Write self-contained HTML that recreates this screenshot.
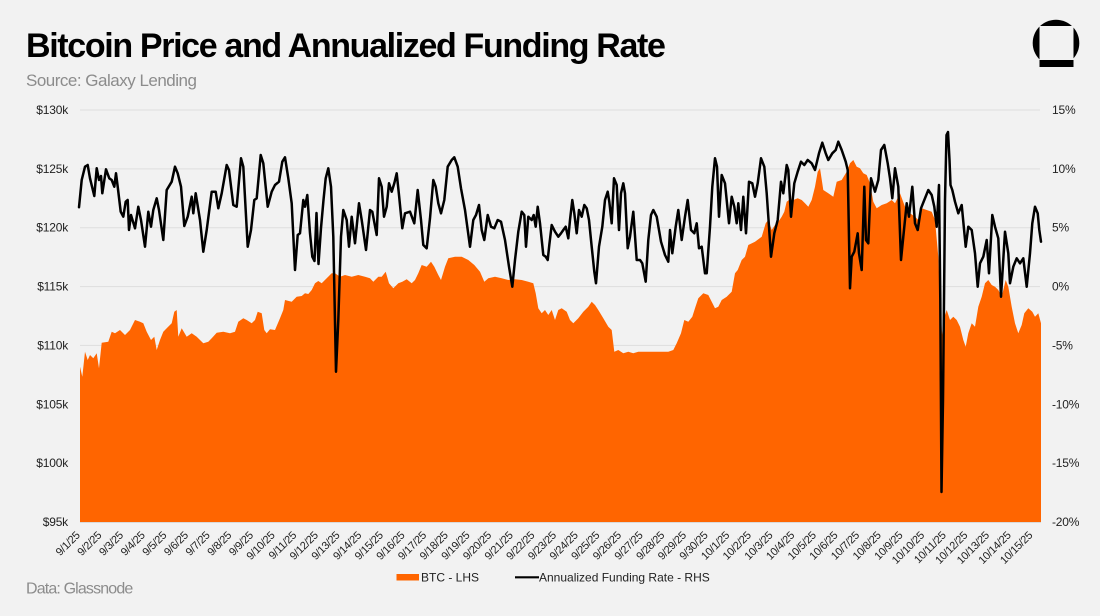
<!DOCTYPE html>
<html>
<head>
<meta charset="utf-8">
<style>
  html,body{margin:0;padding:0;background:#f2f2f2;}
  svg{display:block;}
  text{font-family:"Liberation Sans",Arial,sans-serif;}
</style>
</head>
<body>
<svg width="1100" height="616" viewBox="0 0 1100 616" xmlns="http://www.w3.org/2000/svg">
  <rect x="0" y="0" width="1100" height="616" fill="#f2f2f2"/>

  <!-- Title -->
  <text x="26" y="57" font-size="34" font-weight="bold" fill="#000" letter-spacing="-1.35">Bitcoin Price and Annualized Funding Rate</text>
  <text x="26" y="86" font-size="17" fill="#8c8c8c" letter-spacing="-0.5">Source: Galaxy Lending</text>

  <!-- Logo -->
  <circle cx="1056" cy="43" r="23.3" fill="#000"/>
  <rect x="1030" y="60" width="52" height="12" fill="#f2f2f2"/>
  <rect x="1039.5" y="26" width="34" height="34" fill="#f2f2f2"/>
  <rect x="1039.5" y="60" width="34" height="7" fill="#000"/>

  <!-- Gridlines -->
  <g stroke="#dedede" stroke-width="1">
    <line x1="80" y1="110" x2="1040" y2="110"/>
    <line x1="80" y1="168.9" x2="1040" y2="168.9"/>
    <line x1="80" y1="227.7" x2="1040" y2="227.7"/>
    <line x1="80" y1="286.6" x2="1040" y2="286.6"/>
    <line x1="80" y1="345.4" x2="1040" y2="345.4"/>
    <line x1="80" y1="404.3" x2="1040" y2="404.3"/>
    <line x1="80" y1="463.1" x2="1040" y2="463.1"/>
  </g>

  <!-- Left axis labels -->
  <g font-size="12" fill="#222" text-anchor="end" letter-spacing="-0.2">
    <text x="68" y="114">$130k</text>
    <text x="68" y="172.9">$125k</text>
    <text x="68" y="231.7">$120k</text>
    <text x="68" y="290.6">$115k</text>
    <text x="68" y="349.4">$110k</text>
    <text x="68" y="408.3">$105k</text>
    <text x="68" y="467.1">$100k</text>
    <text x="68" y="526">$95k</text>
  </g>

  <!-- Right axis labels -->
  <g font-size="12" fill="#222" letter-spacing="-0.2">
    <text x="1052" y="114">15%</text>
    <text x="1052" y="172.9">10%</text>
    <text x="1052" y="231.7">5%</text>
    <text x="1052" y="290.6">0%</text>
    <text x="1052" y="349.4">-5%</text>
    <text x="1052" y="408.3">-10%</text>
    <text x="1052" y="467.1">-15%</text>
    <text x="1052" y="526">-20%</text>
  </g>

  <!-- BTC area -->
  <path fill="#ff6500" d="M80,522 L80,366.7 82.3,376.7 85,351.7 87.7,360 90,355 93.3,358.3 96.7,353.3 99,368.3 101.7,342.7 108.3,341.7 111.7,331.7 115,333.3 120,330 125,335 130,330 135,320 140,321.7 143.3,323.3 146.7,331.7 151,340 154.3,336.7 156.7,350 160,340 163.3,331.7 166.7,328.3 171.7,323.3 174.3,311.7 176.7,310 178.3,336.7 181.7,328.3 186.7,336.7 191.7,333.3 196.7,336.7 200,340 203.3,343.3 208.3,341.7 211.7,338.3 216.7,332.7 223.3,331.7 230,333.3 235,331.7 238.3,321.7 243.3,318.3 246.7,320 251.7,323.3 255,320 257.7,311.7 261.7,313.3 264.3,330 266.7,333.3 270,329.3 275,330 280,318.3 283.3,310 285,300 291.7,301.7 296.7,296.7 301.7,296 305,293.3 308.3,294 311.7,290 315,283.3 318.3,281 321.7,283.3 326.7,278.3 331.7,273.3 335,273.3 340,276.7 345,275 351.7,276.7 358.3,275 365,276.7 370,278.3 373.3,281.7 378.3,276.7 381.7,276.7 385.7,271.7 389,283.3 393.3,288.3 398.3,283.3 402.3,281.7 406.7,279.3 411.7,283.3 415,280 418.3,273.3 421.7,265 426.7,266.7 431,261.7 434.3,266.7 438.3,275 441,280 445,266.7 448.3,258.3 455,256.7 461.7,256.7 468.3,260 474.3,265 480,271.7 484.3,281.7 488.3,278.3 495,276.7 501.7,278.3 508.3,280 515,279.3 521.7,280 528.3,281.7 533.3,283.3 535.7,293.3 538.3,308.3 541.7,313.3 545,310 548.3,315 551.7,310 555,320 558.3,310 561.7,308.3 566.7,311.7 570,320 573.3,323.3 578.3,318.3 583.3,311.7 588.3,306.7 591.7,301.7 595,305 598.3,310 603.3,318.3 608.3,326.7 611.7,330 614.3,351.7 618.3,350 623.3,353.3 628.3,351.7 633.3,353.3 638.3,351.7 645,351.7 651.7,351.7 658.3,351.7 668.3,351.7 673.3,350 676.7,343.3 681,333.3 684.3,320 688.3,321.7 692.3,316.7 695,308.3 698.3,298.3 703.3,293.3 708.3,295 711.7,301.7 715,308.3 718.3,306.7 721.7,300 726.7,296.7 731.7,291.7 735,273.3 737.7,270 741.7,260 745,256.7 748.3,245 755,241.7 761.7,236.7 765.7,223.3 768.3,220 771.7,230 775,225 778.3,221.7 781.7,216.7 784.3,211.7 786.7,201.7 790,199.3 793.3,200 797.7,198.3 801.7,200 805,203.3 808.3,206.7 811.7,200 815,186.7 817.7,171.7 820,168.3 823.3,190 828.3,193.3 833.3,196.7 836.7,181.7 841.7,180 846.7,171.7 850,163.3 853.3,160 856.7,166.7 860,168.3 863.3,173.3 866.7,175 870,183.3 873.3,201.7 876.7,208.3 881.7,205 886.7,203.3 891.7,200 895,203.3 900,193.3 905,206.7 910,213.3 915,216.7 918.3,220 921.7,208.3 926.7,210 931.7,211.7 935,220 938.3,256.7 940,293.3 942,335 944,318 946.7,310 950,320 953.3,316.7 956.7,320 960,326.7 963.3,340 965.7,346.7 968.3,333.3 971.7,323.3 975,326.7 978.3,306.7 981.7,296.7 985,283.3 988.3,280 991.7,285 995,286.7 998.3,290 1001.7,296.7 1005.7,280 1008.3,286.7 1011.7,306.7 1015,323.3 1018.3,333.3 1021.7,325 1024.3,313.3 1028.3,308.3 1032.3,311.7 1035,316.7 1038.3,313.3 1041,323.3 L1041,522 Z"/>

  <!-- x-axis baseline -->
  <line x1="80" y1="522.5" x2="1041" y2="522.5" stroke="#d9d9d9" stroke-width="1"/>

  <!-- Funding rate line -->
  <path fill="none" stroke="#000" stroke-width="2.5" stroke-linejoin="round" stroke-linecap="round" d="M79,207.3 L81.7,180 85,166.7 87.7,165 90,178.3 94.3,196 96.7,168.3 99,180 101,176 102.3,193.3 106,169.3 109.3,178.3 111.7,180 114.3,186.7 116,173.3 117.7,186.7 120.7,211.7 123.3,216.7 125.7,201.7 127.7,200 129,230 131,215 135,228.3 138.3,206.7 141,220 145,246.7 148.3,211.7 151,226.7 153.3,210 156.7,198.3 159,210 163.3,240 166.7,190 171.7,181.7 175,166.7 177.7,173.3 181,186.7 184.3,226 187.7,216.7 191.7,196.7 193.3,213.3 195.7,193.3 200,220 203.3,251.7 206.7,230 211.7,191.7 215.7,191.7 218.3,208.3 221.7,193.3 226.7,165 229,170 233.3,205 236.7,206.7 241,158.3 243.3,166.7 247.7,246.7 251,230 254.3,200 256.7,198.3 260.7,155 263.3,163.3 267.7,206.7 271.7,191.7 275,185 279,181.7 282.3,161.7 285,157.3 288.3,178.3 291.7,203.3 295,270 297.7,235 300,233.3 303.3,200 305,206.7 307.3,195 310,233.3 312.3,256.7 314.5,261 316.5,213 318.5,264 321,228 323.5,200 325.7,178.3 328.3,168.3 331,186.7 333.3,236.7 336,371.7 338.3,320 341,236.7 343.3,210 346.7,220 349,246.7 351.7,216.7 355,243.3 359,203.3 361.7,220 366,250 370,210 372.3,211.7 376.7,235 379,178.3 381.7,186.7 384,216.7 386.7,206.7 389,183.3 391.7,191.7 394.3,183.3 396.7,173.3 399,195 402.3,228.3 405,213.3 410,211.7 414.3,223.3 417.7,190 421,220 423.3,245 426.7,248.3 430,218.3 433.3,180 435.7,186.7 438.3,203.3 441,213.3 444.3,200 447.7,166.7 451.7,160 454.3,157.3 457.7,166.7 461,188.3 465,210 470,246.7 473.3,220 476,215 479,205 481.7,230 484.3,240 487.7,215 491,226.7 494.3,228.3 497.7,220 501,221.7 505,240 509,266.7 512.3,286.7 515,260 518.3,231.7 521.7,211.7 524.3,215 526,246.7 528.3,216.7 531.7,220 533.7,215 535.7,226.7 537.7,206.7 540,223.3 543.3,255 545.7,256.7 547.7,260 549.3,245 551.7,225 555,231.7 558.3,236.7 561,233.3 563.3,230 565.7,226.7 568.3,238.3 570,220 572.3,200 574.3,213.3 576.7,233.3 579,210 581.7,216.7 584.3,205 586.7,208.3 589,220 591.7,246.7 594.3,271.7 596,283.3 599,246.7 602.3,226.7 605,200 607.7,191.7 609.3,201.7 611.7,223.3 614,178.3 616.7,185 619,230 621,193.3 623.3,183.3 625,193.3 627.7,248.3 630,236.7 633.3,211.7 636.7,260 640,260 642.3,263.3 645.7,281.7 648.3,240 651,215 653.3,210 656.7,216.7 661,241.7 665,255 668.3,261.7 670,230 672.3,253.3 675.7,226.7 678.3,210 681.7,240 685,216.7 687.7,200 691,230 694.3,233.3 696.7,223.3 699,248.3 701.7,246.7 705,273.3 706.7,273.3 710,226.7 712.3,186.7 715,158.3 717,166.7 719,216.7 721.7,175 725,183.3 729,223.3 731.7,196.7 734.3,206.7 736.7,223.3 738.3,203.3 741,230 743.3,196.7 746,233.3 749,181.7 752.3,183.3 755,196.7 757.7,183.3 761,158.3 764.3,166.7 766.7,193.3 769,226.7 771,256.7 774.3,233.3 777.7,220 781,181.7 783.3,193.3 786.7,165 788.3,170 791,216.7 794.3,183.3 797.7,171.7 801,161.7 804.3,165 807.7,160 811.7,163.3 815,170 819,153.3 822.3,142.7 825.7,153.3 828.3,160 832.3,153.3 835.7,150 838.3,141.7 841.7,150 845.7,161.7 847.7,170 850,288.3 851.7,256.7 854.3,251.7 857.7,233.3 859,253.3 861.7,270 864.3,186.7 866,240 868.3,243.3 871,178.3 875,191.7 878.3,180 881,150 884.3,145 887.7,163.3 890,178.3 892.3,198.3 895,168.3 898.3,186.7 901,260 903.3,236.7 906.7,203.3 909,216.7 912.3,186.7 915,223.3 917.7,230 921,208.3 924.3,200 928.3,190 931.7,195 934.3,206.7 936.7,226.7 939,185 940.3,300 941.5,492 943,400 945,200 946.5,135 948,132 949.5,160 950.5,185 952.3,190 955,201.7 958.3,213.3 961.7,205 965.7,246.7 968.3,226.7 971.7,230 975,253.3 977.7,286.7 980,263.3 983.3,256.7 986.7,240 989,273.3 992.3,215 995,226.7 998.3,238.3 1001,296.7 1005,231.7 1008.3,253.3 1010,283.3 1013.3,266.7 1016.7,258.3 1020,263.3 1023.3,258.3 1026.7,286.7 1030,253.3 1032.3,223.3 1035,206.7 1037.7,213.3 1039.3,230 1041,241.7"/>

  <!-- X axis labels -->
  <g font-size="11" fill="#222" text-anchor="end" letter-spacing="-0.3">
    <text transform="translate(80.5,536) rotate(-45)">9/1/25</text>
    <text transform="translate(102.15,536) rotate(-45)">9/2/25</text>
    <text transform="translate(123.8,536) rotate(-45)">9/3/25</text>
    <text transform="translate(145.45,536) rotate(-45)">9/4/25</text>
    <text transform="translate(167.1,536) rotate(-45)">9/5/25</text>
    <text transform="translate(188.75,536) rotate(-45)">9/6/25</text>
    <text transform="translate(210.4,536) rotate(-45)">9/7/25</text>
    <text transform="translate(232.05,536) rotate(-45)">9/8/25</text>
    <text transform="translate(253.7,536) rotate(-45)">9/9/25</text>
    <text transform="translate(275.35,536) rotate(-45)">9/10/25</text>
    <text transform="translate(297,536) rotate(-45)">9/11/25</text>
    <text transform="translate(318.65,536) rotate(-45)">9/12/25</text>
    <text transform="translate(340.3,536) rotate(-45)">9/13/25</text>
    <text transform="translate(361.95,536) rotate(-45)">9/14/25</text>
    <text transform="translate(383.6,536) rotate(-45)">9/15/25</text>
    <text transform="translate(405.25,536) rotate(-45)">9/16/25</text>
    <text transform="translate(426.9,536) rotate(-45)">9/17/25</text>
    <text transform="translate(448.55,536) rotate(-45)">9/18/25</text>
    <text transform="translate(470.2,536) rotate(-45)">9/19/25</text>
    <text transform="translate(491.85,536) rotate(-45)">9/20/25</text>
    <text transform="translate(513.5,536) rotate(-45)">9/21/25</text>
    <text transform="translate(535.15,536) rotate(-45)">9/22/25</text>
    <text transform="translate(556.8,536) rotate(-45)">9/23/25</text>
    <text transform="translate(578.45,536) rotate(-45)">9/24/25</text>
    <text transform="translate(600.1,536) rotate(-45)">9/25/25</text>
    <text transform="translate(621.75,536) rotate(-45)">9/26/25</text>
    <text transform="translate(643.4,536) rotate(-45)">9/27/25</text>
    <text transform="translate(665.05,536) rotate(-45)">9/28/25</text>
    <text transform="translate(686.7,536) rotate(-45)">9/29/25</text>
    <text transform="translate(708.35,536) rotate(-45)">9/30/25</text>
    <text transform="translate(730,536) rotate(-45)">10/1/25</text>
    <text transform="translate(751.65,536) rotate(-45)">10/2/25</text>
    <text transform="translate(773.3,536) rotate(-45)">10/3/25</text>
    <text transform="translate(794.95,536) rotate(-45)">10/4/25</text>
    <text transform="translate(816.6,536) rotate(-45)">10/5/25</text>
    <text transform="translate(838.25,536) rotate(-45)">10/6/25</text>
    <text transform="translate(859.9,536) rotate(-45)">10/7/25</text>
    <text transform="translate(881.55,536) rotate(-45)">10/8/25</text>
    <text transform="translate(903.2,536) rotate(-45)">10/9/25</text>
    <text transform="translate(924.85,536) rotate(-45)">10/10/25</text>
    <text transform="translate(946.5,536) rotate(-45)">10/11/25</text>
    <text transform="translate(968.15,536) rotate(-45)">10/12/25</text>
    <text transform="translate(989.8,536) rotate(-45)">10/13/25</text>
    <text transform="translate(1011.45,536) rotate(-45)">10/14/25</text>
    <text transform="translate(1033.1,536) rotate(-45)">10/15/25</text>
  </g>

  <!-- Legend -->
  <rect x="396.5" y="574" width="22.5" height="6.5" fill="#ff6500"/>
  <text x="421" y="581.5" font-size="12" fill="#222">BTC - LHS</text>
  <line x1="515" y1="577.3" x2="539" y2="577.3" stroke="#000" stroke-width="2.2"/>
  <text x="539" y="581.5" font-size="12" fill="#222">Annualized Funding Rate - RHS</text>

  <!-- Footer -->
  <text x="26" y="593.5" font-size="16" fill="#8c8c8c" letter-spacing="-0.85">Data: Glassnode</text>
</svg>
</body>
</html>
